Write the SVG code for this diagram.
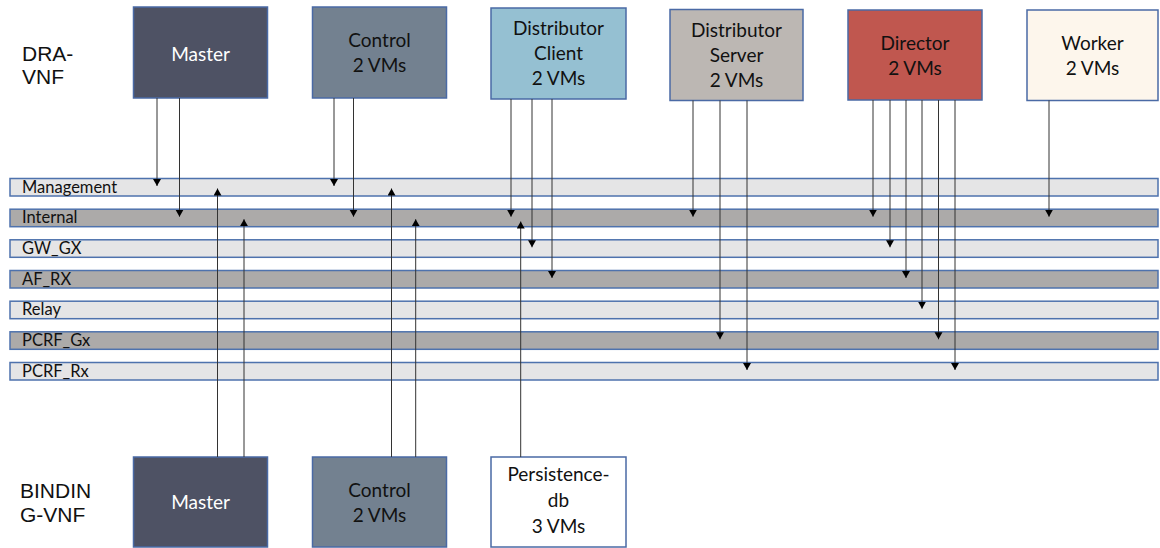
<svg xmlns="http://www.w3.org/2000/svg" width="1160" height="548" viewBox="0 0 1160 548">
<style>
.box{stroke:#4a6aa5;stroke-width:1.5}
.bt{font-family:Lato,"Open Sans","Liberation Sans",sans-serif;font-size:19px;text-anchor:middle;fill:#111}
.wt{fill:#ffffff}
.side{font-family:"Liberation Sans",Arial,sans-serif;font-size:21px;fill:#111}
.band{stroke:#4e72ad;stroke-width:1.5}
.lt{fill:#e5e5e6}
.dk{fill:#acaaa9}
.bl{font-family:Lato,"Open Sans","Liberation Sans",sans-serif;font-size:16.5px;fill:#111}
.c{stroke:#333;stroke-width:1;fill:none;marker-end:url(#ah)}
</style>
<defs>
<marker id="ah" markerUnits="userSpaceOnUse" markerWidth="9" markerHeight="9" refX="7" refY="4" orient="auto">
<path d="M0,0 L7,4 L0,8 z" fill="#000"/>
</marker>
</defs>
<rect width="1160" height="548" fill="#ffffff"/>

<g id="labels">
<text class="side" x="22" y="60.5">DRA-</text>
<text class="side" x="22" y="84">VNF</text>
<text class="side" x="20" y="498">BINDIN</text>
<text class="side" x="20" y="522">G-VNF</text>
</g>

<g id="bands">
<g id="band-management"><rect class="band lt" x="10" y="178.5" width="1148" height="17.5"/><text class="bl" x="22" y="192.5">Management</text></g>
<g id="band-internal"><rect class="band dk" x="10" y="209.2" width="1148" height="17.5"/><text class="bl" x="22" y="223.2">Internal</text></g>
<g id="band-gwgx"><rect class="band lt" x="10" y="239.8" width="1148" height="17.5"/><text class="bl" x="22" y="253.8">GW_GX</text></g>
<g id="band-afrx"><rect class="band dk" x="10" y="270.5" width="1148" height="17.5"/><text class="bl" x="22" y="284.5">AF_RX</text></g>
<g id="band-relay"><rect class="band lt" x="10" y="301.2" width="1148" height="17.5"/><text class="bl" x="22" y="315.2">Relay</text></g>
<g id="band-pcrfgx"><rect class="band dk" x="10" y="331.8" width="1148" height="17.5"/><text class="bl" x="22" y="345.8">PCRF_Gx</text></g>
<g id="band-pcrfrx"><rect class="band lt" x="10" y="362.5" width="1148" height="17.5"/><text class="bl" x="22" y="376.5">PCRF_Rx</text></g>
</g>

<g id="dra-master"><rect class="box" x="133.5" y="7" width="134" height="91" fill="#4e5264"/><text class="bt wt" x="200.5" y="60.5">Master</text></g>
<g id="dra-control"><rect class="box" x="312.5" y="7" width="134" height="91" fill="#738190"/><text class="bt" x="379.5" y="47">Control</text><text class="bt" x="379.5" y="72">2 VMs</text></g>
<g id="dra-distclient"><rect class="box" x="491" y="8" width="135" height="91" fill="#95c0d2"/><text class="bt" x="558.5" y="35">Distributor</text><text class="bt" x="558.5" y="60">Client</text><text class="bt" x="558.5" y="85">2 VMs</text></g>
<g id="dra-distserver"><rect class="box" x="670" y="9.5" width="133" height="91" fill="#bcb7b3"/><text class="bt" x="736.5" y="37">Distributor</text><text class="bt" x="736.5" y="62">Server</text><text class="bt" x="736.5" y="87">2 VMs</text></g>
<g id="dra-director"><rect class="box" x="848" y="10" width="134" height="90" fill="#c0574f"/><text class="bt" x="915" y="50">Director</text><text class="bt" x="915" y="75">2 VMs</text></g>
<g id="dra-worker"><rect class="box" x="1027" y="10" width="131" height="90.5" fill="#fdf6ec"/><text class="bt" x="1092.5" y="50">Worker</text><text class="bt" x="1092.5" y="75">2 VMs</text></g>

<g id="bind-master"><rect class="box" x="133.5" y="457" width="134" height="90" fill="#4e5264"/><text class="bt wt" x="200.5" y="509">Master</text></g>
<g id="bind-control"><rect class="box" x="312.5" y="457" width="134" height="90" fill="#738190"/><text class="bt" x="379.5" y="497">Control</text><text class="bt" x="379.5" y="522">2 VMs</text></g>
<g id="bind-persistence"><rect class="box" x="491" y="457" width="135" height="90" fill="#ffffff"/><text class="bt" x="558.5" y="481">Persistence-</text><text class="bt" x="558.5" y="507">db</text><text class="bt" x="558.5" y="533">3 VMs</text></g>

<g id="connectors">
<line class="c" x1="157" y1="98" x2="157" y2="186"/>
<line class="c" x1="179.5" y1="98" x2="179.5" y2="216.7"/>
<line class="c" x1="334" y1="98" x2="334" y2="186"/>
<line class="c" x1="353.5" y1="98" x2="353.5" y2="216.7"/>
<line class="c" x1="511" y1="99" x2="511" y2="216.7"/>
<line class="c" x1="532" y1="99" x2="532" y2="247.3"/>
<line class="c" x1="552" y1="99" x2="552" y2="278"/>
<line class="c" x1="693" y1="100.5" x2="693" y2="216.7"/>
<line class="c" x1="720" y1="100.5" x2="720" y2="339.3"/>
<line class="c" x1="747" y1="100.5" x2="747" y2="370"/>
<line class="c" x1="873" y1="100" x2="873" y2="216.7"/>
<line class="c" x1="890" y1="100" x2="890" y2="247.3"/>
<line class="c" x1="906" y1="100" x2="906" y2="278"/>
<line class="c" x1="922" y1="100" x2="922" y2="308.7"/>
<line class="c" x1="938.5" y1="100" x2="938.5" y2="339.3"/>
<line class="c" x1="955" y1="100" x2="955" y2="370"/>
<line class="c" x1="1049" y1="100.5" x2="1049" y2="216.7"/>
<line class="c" x1="217.5" y1="457" x2="217.5" y2="188.5"/>
<line class="c" x1="244" y1="457" x2="244" y2="219.2"/>
<line class="c" x1="391.5" y1="457" x2="391.5" y2="188.5"/>
<line class="c" x1="415.7" y1="457" x2="415.7" y2="219.2"/>
<line class="c" x1="520.7" y1="457" x2="520.7" y2="221.5"/>
</g>
</svg>
